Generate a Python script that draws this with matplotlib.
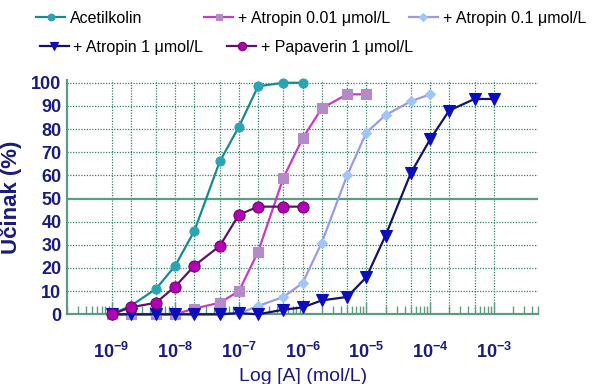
import matplotlib
matplotlib.use("Agg")
import matplotlib.pyplot as plt
from matplotlib.lines import Line2D
from matplotlib.ticker import FixedLocator, NullFormatter

plt.rcParams["font.family"] = ["Liberation Sans", "DejaVu Sans"]
plt.rcParams["mathtext.fontset"] = "custom"
plt.rcParams["mathtext.rm"] = "Liberation Sans:bold"
plt.rcParams["mathtext.bf"] = "Liberation Sans:bold"

# concentrations (mol/L)
conc = [1e-9, 2e-9, 5e-9, 1e-8, 2e-8, 5e-8, 1e-7, 2e-7, 5e-7, 1e-6,
        2e-6, 5e-6, 1e-5, 2e-5, 5e-5, 1e-4, 2e-4, 5e-4, 1e-3]

acetilkolin = [0, 3.6, 11, 21, 36, 66, 81, 98.5, 100, 100]
atropin_001 = [0, 0, 0, 0, 2.5, 5, 10, 27, 59, 76, 89, 95, 95]
atropin_01 = [0, 0, 0, 0, 0, 0, 0.4, 3.6, 7.5, 13.5, 31, 60, 78.5, 86, 92, 95]
atropin_1 = [0, 0, 0, 0, 0, 0, 0.5, 0, 2, 3, 6, 7.5, 16, 34, 61, 75.5, 88, 93, 93]
papaverin = [0, 3, 5, 12, 21, 29.5, 43, 46.5, 46.5, 46.5]

decades = [1e-9, 1e-8, 1e-7, 1e-6, 1e-5, 1e-4, 1e-3]
xtick_labels = [r"$\mathbf{10^{-9}}$", r"$\mathbf{10^{-8}}$", r"$\mathbf{10^{-7}}$",
                r"$\mathbf{10^{-6}}$", r"$\mathbf{10^{-5}}$", r"$\mathbf{10^{-4}}$",
                r"$\mathbf{10^{-3}}$"]
yticks = [0, 10, 20, 30, 40, 50, 60, 70, 80, 90, 100]

navy = "#1b1b78"
green = "#5e9c82"
grid_c = "#2f8466"

fig = plt.figure(figsize=(6.05, 3.84), dpi=100)
ax = fig.add_axes([0.1107, 0.1815, 0.779, 0.609])

# grid: dotted at 1, 2, 5 per decade, solid line at 50 %
for d in decades:
    for m in (1, 2, 5):
        if d * m <= 1e-3:
            ax.axvline(d * m, color=grid_c, lw=0.9, ls=(0, (1, 1.2)), zorder=1)
for v in yticks[1:]:
    if v == 50:
        ax.axhline(v, color=green, lw=1.6, zorder=1)
    else:
        ax.axhline(v, color=grid_c, lw=0.9, ls=(0, (1, 1.2)), zorder=1)

series = [
    ("Acetilkolin", acetilkolin, "#178a8f", "#2aa3b3", "#2aa3b3", "o", 6.5),
    ("+ Atropin 0.01 \u03bcmol/L", atropin_001, "#c83ac4", "#b58ac8", "#b58ac8", "s", 6.5),
    ("+ Atropin 0.1 \u03bcmol/L", atropin_01, "#9a9ae6", "#9fc6f5", "#9fc6f5", "D", 5.5),
    ("+ Atropin 1 \u03bcmol/L", atropin_1, "#14145e", "#0d0dc0", "#0d0dc0", "v", 8),
    ("+ Papaverin 1 \u03bcmol/L", papaverin, "#5e1462", "#b400b4", "#6a0a6a", "o", 8),
]

handles = []
for label, vals, lc, mfc, mec, mk, ms in series:
    ax.plot(conc[:len(vals)], vals, color=lc, lw=1.6, marker=mk, ms=ms,
            mfc=mfc, mec=mec, mew=0.8, clip_on=False, zorder=3)
    handles.append(Line2D([], [], color=lc, lw=1.6, marker=mk, ms=ms * 0.75,
                          mfc=mfc, mec=mec, mew=0.8))

ax.set_xscale("log")
ax.set_xlim(2e-10, 5e-3)
ax.set_ylim(0, 101)

ax.xaxis.set_major_locator(FixedLocator(decades))
ax.set_xticklabels(xtick_labels)
minors = [d * m for d in [1e-10] + decades for m in range(2, 10)]
ax.xaxis.set_minor_locator(FixedLocator(minors))
ax.xaxis.set_minor_formatter(NullFormatter())
ax.set_yticks(yticks)
ax.set_yticklabels([str(v) for v in yticks])

ax.tick_params(axis="x", which="major", direction="in", length=8.5, width=1,
               color=green, pad=20, labelsize=13, labelcolor=navy)
ax.tick_params(axis="x", which="minor", direction="in", length=5.5, width=1,
               color=green)
ax.tick_params(axis="y", length=0, pad=4, labelsize=13, labelcolor=navy)
for t in ax.get_yticklabels():
    t.set_fontweight("bold")

for s in ("top", "right"):
    ax.spines[s].set_visible(False)
for s in ("left", "bottom"):
    ax.spines[s].set_color(green)
    ax.spines[s].set_linewidth(1.6)

ax.set_ylabel("U\u010dinak (%)", fontsize=16, fontweight="bold", color=navy)
ax.yaxis.set_label_coords(-0.095, 0.5)
ax.set_xlabel("Log [A] (mol/L)", fontsize=14, color=navy, labelpad=4)

# legend entries placed one by one (two rows, as in the original)
legend_pos = [(0.060, 0.952), (0.338, 0.952), (0.676, 0.952),
              (0.066, 0.877), (0.376, 0.877)]
for h, s, pos in zip(handles, series, legend_pos):
    fig.legend([h], [s[0]], loc="center left", bbox_to_anchor=pos,
               frameon=False, fontsize=11.5, handlelength=1.8,
               handletextpad=0.3, borderpad=0, borderaxespad=0)

fig.savefig("out.png", dpi=100)
